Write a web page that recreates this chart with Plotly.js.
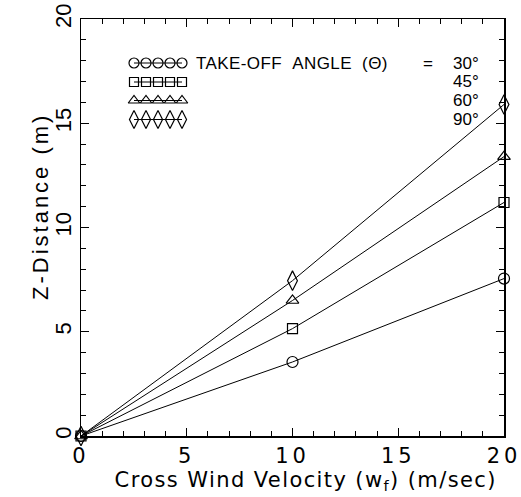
<!DOCTYPE html>
<html>
<head>
<meta charset="utf-8">
<script src="https://cdn.plot.ly/plotly-3.0.1.min.js"></script>
<style>
  html, body { margin: 0; padding: 0; background: #fff; }
  .xtick text { letter-spacing: 4px; }
  g.annotation[data-index="0"] text { letter-spacing: 1.4px; }
  g.annotation[data-index="1"] text { letter-spacing: 3px; }
  g.annotation[data-index="2"] text { letter-spacing: 0.4px; }
</style>
</head>
<body>
<div id="chart" style="width:521px;height:497px;"></div>
<script>
// ---- data ----
const windVelocity = [0, 10, 20];
const angle30 = [0, 3.55, 7.55];
const angle45 = [0, 5.15, 11.2];
const angle60 = [0, 6.5, 13.4];
const angle90 = [0, 7.45, 15.9];
const seriesNames = ['30°', '45°', '60°', '90°'];
const xTickVals = [0, 5, 10, 15, 20];
const yTickVals = [0, 5, 10, 15, 20];

// ---- style ----
const symbols = ['circle-open', 'square-open', 'triangle-up-open', 'diamond-tall-open'];
const sizes = [11, 10, 11, 14];
const seriesData = [angle30, angle45, angle60, angle90];

const traces = seriesData.map((ys, i) => ({
  x: windVelocity, y: ys, type: 'scatter', mode: 'lines+markers',
  name: seriesNames[i], cliponaxis: false,
  line: {color: '#000', width: 1},
  marker: {symbol: symbols[i], size: sizes[i], color: '#000', line: {width: 1.2, color: '#000'}}
}));

// plot-area pixel geometry (for layout decorations only)
const PX = {left: 81, right: 504, top: 19, bottom: 436};
const px2paperX = p => (p - PX.left) / (PX.right - PX.left);
const px2paperY = p => (PX.bottom - p) / (PX.bottom - PX.top);

// legend samples on a pixel-mapped overlay axis
const legendSampleX = [134, 146, 158, 170, 182];
const legendRowY = [63, 82, 100.5, 119.5];
legendRowY.forEach((ry, i) => {
  traces.push({
    x: legendSampleX, y: legendSampleX.map(() => ry), xaxis: 'x2', yaxis: 'y2',
    type: 'scatter', mode: 'lines+markers', cliponaxis: false, hoverinfo: 'skip',
    line: {color: '#000', width: 1},
    marker: {symbol: symbols[i], size: sizes[i] - 1, color: '#000', line: {width: 1.2, color: '#000'}}
  });
});

const axisCommon = {
  range: [0, 20], showgrid: false, zeroline: false,
  showline: true, linecolor: '#000', linewidth: 1.5, mirror: 'allticks',
  ticks: 'inside', ticklen: 8, tickwidth: 1, tickcolor: '#000',
  ticklabeloverflow: 'allow',
  minor: {dtick: 1, ticks: 'inside', ticklen: 5, tickwidth: 1, tickcolor: '#000'}
};

const legFont = {family: 'Liberation Sans, Arial, sans-serif', size: 17, color: '#000'};
const ann = (x, y, text, xanchor, font, extra) => Object.assign({
  xref: 'paper', yref: 'paper', x: px2paperX(x), y: px2paperY(y), text: text,
  showarrow: false, xanchor: xanchor, yanchor: 'middle', font: font
}, extra || {});

const annotations = [
  ann(306, 481, 'Cross Wind Velocity (w<sub>f</sub>) (m/sec)', 'center',
      {family: 'DejaVu Sans, sans-serif', size: 21, color: '#000'}),
  ann(40, 207, 'Z-Distance (m)', 'center',
      {family: 'Liberation Sans, Arial, sans-serif', size: 22, color: '#000'}, {textangle: -90}),
  ann(198, legendRowY[0], 'TAKE-OFF&nbsp;&nbsp;ANGLE&nbsp;&nbsp;(Θ)', 'left', legFont),
  ann(428, legendRowY[0], '=', 'center', legFont)
];
seriesNames.forEach((n, i) => {
  annotations.push(ann(481, legendRowY[i], n, 'right', legFont));
});

const layout = {
  width: 521, height: 497,
  margin: {l: PX.left, r: 521 - PX.right, t: PX.top, b: 497 - PX.bottom, pad: 0},
  paper_bgcolor: '#fff', plot_bgcolor: '#fff',
  showlegend: false,
  xaxis: Object.assign({}, axisCommon, {
    tickvals: xTickVals,
    tickfont: {family: 'DejaVu Sans, sans-serif', size: 21, color: '#000'}
  }),
  yaxis: Object.assign({}, axisCommon, {
    tickvals: yTickVals, tickangle: -90,
    tickfont: {family: 'Liberation Sans, Arial, sans-serif', size: 22, color: '#000'}
  }),
  xaxis2: {overlaying: 'x', range: [PX.left, PX.right], visible: false, fixedrange: true},
  yaxis2: {overlaying: 'y', range: [PX.bottom, PX.top], visible: false, fixedrange: true},
  annotations: annotations
};

Plotly.newPlot('chart', traces, layout, {staticPlot: true, displayModeBar: false});
</script>
</body>
</html>
